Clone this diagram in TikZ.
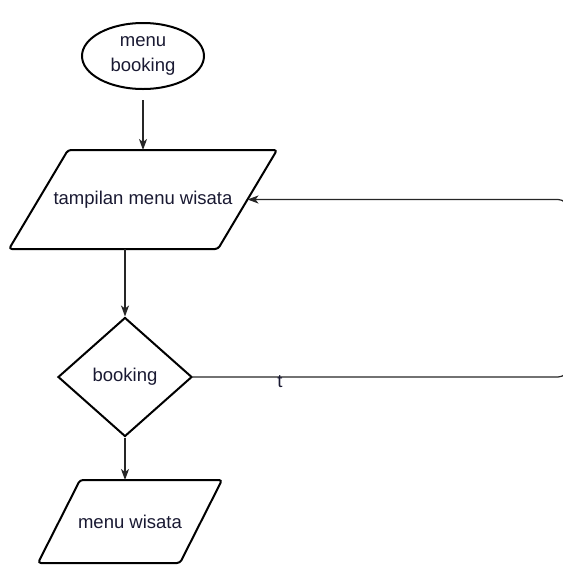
\documentclass[tikz,border=0pt]{standalone}
\usepackage{fontspec}
\setmainfont{Liberation Sans}
\usetikzlibrary{shapes.geometric,arrows.meta}

\definecolor{texte}{RGB}{25,25,50}

\begin{document}
\begin{tikzpicture}[x=1pt,y=-1pt,
  forme/.style={draw,line width=2pt,inner sep=0pt,
    align=center,text=texte,font=\fontsize{18.5}{25}\selectfont},
  cadre/.style={line width=2pt,rounded corners=3pt},
  fleche/.style={-{Stealth[length=11pt,width=8pt,inset=3pt]},line width=1.2pt,draw=black!85}]

\useasboundingbox (0,0) rectangle (563,566);

% Début
\node[forme,ellipse,minimum width=122pt,minimum height=66pt]
  (debut) at (143,56) {menu\\booking};

% Écran des circuits
\draw[cadre]
(68,150)
-- (277,150)
-- (218,249)
-- (9,249)
-- cycle;
\node[forme,draw=none] (ecran) at (143,200) {tampilan menu wisata};
\coordinate (ecranN) at (143,150);
\coordinate (ecranS) at (125,249);
\coordinate (ecranE) at (247.5,199.5);

% Décision
\node[forme,diamond,minimum width=134pt,minimum height=119pt]
  (choix) at (125,377) {booking};

% Sortie
\draw[cadre]
(80,480)
-- (222,480)
-- (180,563)
-- (38,563)
-- cycle;
\node[forme,draw=none] (sortie) at (130,522) {menu wisata};
\coordinate (sortieN) at (125,480);

% Liaisons
\draw[fleche,shorten <=10pt]
(debut.south)
--
(ecranN);

\draw[fleche]
(ecranS)
--
(choix.north);

\draw[fleche]
(choix.south)
--
(sortieN);

% Retour
\draw[fleche,rounded corners=10pt]
(choix.east)
-- ++(375,0) node[pos=0.232,yshift=-5pt,text=texte,font=\fontsize{18.5}{20}\selectfont] (oui) {t}
|- (ecranE);

\end{tikzpicture}
\end{document}
